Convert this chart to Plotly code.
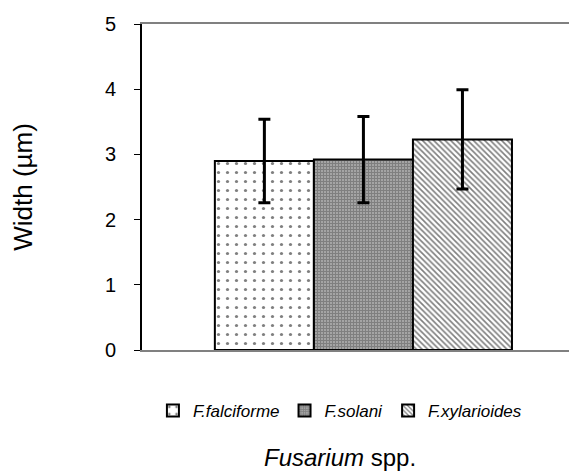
import plotly.graph_objects as go

species = ["F.falciforme", "F.solani", "F.xylarioides"]
widths = [2.90, 2.92, 3.23]
errors = [0.64, 0.66, 0.76]
y_ticks = [0, 1, 2, 3, 4, 5]

patterns = [
    dict(shape=".", size=9, solidity=0.1, fgcolor="black", bgcolor="white"),
    dict(shape="+", size=3, solidity=0.85, fgcolor="black", bgcolor="white"),
    dict(shape="\\", size=4, solidity=0.4, fgcolor="black", bgcolor="white"),
]

fig = go.Figure()
for name, w, e, p in zip(species, widths, errors, patterns):
    fig.add_trace(go.Bar(
        x=["Fusarium"], y=[w], name=name,
        marker=dict(color="white", pattern=p, line=dict(color="black", width=2)),
        error_y=dict(type="data", array=[e], color="black", thickness=3, width=6),
    ))

fig.add_annotation(text="<i>Fusarium</i> spp.", xref="paper", yref="paper",
                   x=0.455, y=-0.331, xanchor="center", yanchor="middle",
                   showarrow=False, font=dict(size=24))

fig.update_layout(
    width=577, height=475,
    margin=dict(l=134, r=8, t=16, b=133, autoexpand=False),
    paper_bgcolor="white", plot_bgcolor="white",
    barmode="group", bargap=0.317, bargroupgap=0,
    font=dict(family="Liberation Sans, Arial, sans-serif", color="black"),
    showlegend=True,
    legend=dict(orientation="h", x=0.455, xanchor="center", y=-0.187, yanchor="middle",
                font=dict(size=17, style="italic"), itemwidth=30, traceorder="normal"),
    xaxis=dict(range=[-0.509, 0.491], showticklabels=False, ticks="", automargin=False,
               showline=True, linecolor="#808080", linewidth=2, mirror=True,
               showgrid=False, zeroline=False),
    yaxis=dict(range=[0, 5], tickvals=y_ticks, ticks="outside", ticklen=6, tickcolor="black",
               showline=True, linecolor="black", linewidth=2, showgrid=False, zeroline=False,
               tickfont=dict(size=20), ticklabelstandoff=14, automargin=False,
               title=dict(text="Width (µm)", font=dict(size=26), standoff=66)),
)
fig.write_html("out.html")
